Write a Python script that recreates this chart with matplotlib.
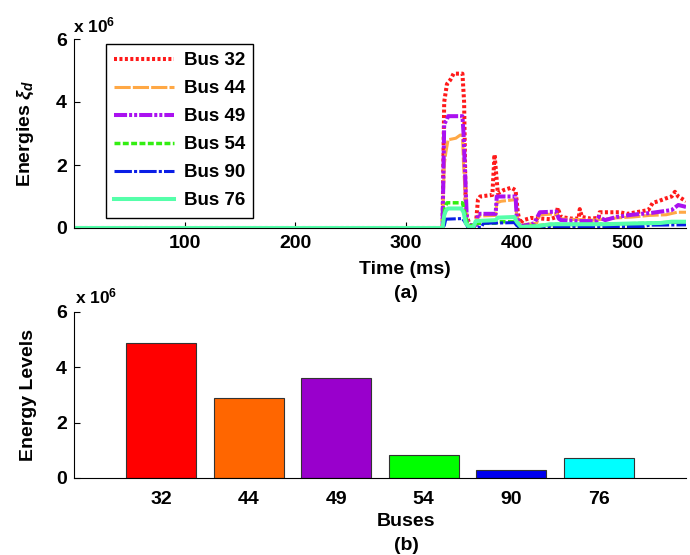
import matplotlib
matplotlib.use('Agg')
import matplotlib.pyplot as plt

plt.rcParams['font.family'] = ['Liberation Sans', 'DejaVu Sans']
plt.rcParams['font.weight'] = 'bold'
plt.rcParams['axes.labelweight'] = 'bold'
plt.rcParams['mathtext.fontset'] = 'custom'
plt.rcParams['mathtext.rm'] = 'Liberation Sans:bold'
plt.rcParams['mathtext.it'] = 'Liberation Sans:bold:italic'
plt.rcParams['mathtext.bf'] = 'Liberation Sans:bold'

## energies (x 10^6), time in ms ##
t32 = [0, 333, 334.5, 337, 340, 343, 351, 352.5, 354, 358, 363, 365, 367, 378, 380, 383, 388, 395, 399, 401, 403,
       406, 413, 422, 430, 436, 437, 440, 449, 456, 457, 459, 467, 474, 475, 493, 500, 519, 523, 528, 534, 540,
       543, 546, 553]
e32 = [0, 0, 4.0, 4.57, 4.7, 4.9, 4.9, 4.0, 0.5, 0.03, 0.05, 0.9, 1.0, 1.05, 2.33, 1.1, 1.2, 1.28, 1.2, 0.5, 0.15,
       0.25, 0.32, 0.3, 0.28, 0.35, 0.64, 0.35, 0.3, 0.3, 0.6, 0.35, 0.3, 0.32, 0.5, 0.5, 0.45, 0.57, 0.8, 0.85,
       0.93, 1.0, 1.15, 1.0, 0.85]

t44 = [0, 333, 334.5, 336, 338, 345, 349, 351, 352, 355, 362, 365, 381, 382, 386, 399, 400, 403, 410, 418, 421,
       436, 438, 445, 470, 490, 505, 520, 535, 545, 553]
e44 = [0, 0, 2.0, 2.4, 2.8, 2.85, 2.95, 2.95, 2.0, 0.1, 0.05, 0.38, 0.4, 0.8, 0.85, 0.9, 0.4, 0.1, 0.12, 0.15,
       0.42, 0.45, 0.3, 0.28, 0.25, 0.32, 0.35, 0.4, 0.42, 0.5, 0.5]

t49 = [0, 333, 334.5, 337, 338, 351, 352, 355, 358, 364, 365, 381, 382, 399, 400, 403, 410, 416, 418, 421, 436,
       438, 440, 455, 472, 474, 480, 490, 504, 522, 540, 546, 553]
e49 = [0, 0, 3.3, 3.45, 3.55, 3.55, 3.0, 0.25, 0.08, 0.1, 0.45, 0.45, 1.0, 1.0, 0.4, 0.05, 0.1, 0.15, 0.3, 0.5,
       0.52, 0.3, 0.25, 0.22, 0.22, 0.35, 0.25, 0.35, 0.42, 0.48, 0.57, 0.73, 0.67]

t54 = [0, 333, 335, 337, 351, 353, 356, 365, 381, 383, 399, 402, 420, 437, 440, 480, 520, 553]
e54 = [0, 0, 0.6, 0.8, 0.8, 0.5, 0.05, 0.15, 0.15, 0.2, 0.2, 0.03, 0.08, 0.12, 0.1, 0.12, 0.15, 0.2]

t90 = [0, 334, 336, 351, 353, 356, 368, 370, 398, 400, 403, 440, 480, 515, 520, 553]
e90 = [0, 0, 0.28, 0.3, 0.2, 0.02, 0.02, 0.15, 0.17, 0.08, 0.02, 0.02, 0.04, 0.05, 0.09, 0.1]

t76 = [0, 333, 334.5, 336, 338, 350, 352, 354, 357, 361, 363, 381, 383, 398, 400, 404, 420, 430, 480, 500, 530,
       540, 553]
e76 = [0, 0, 0.4, 0.55, 0.62, 0.62, 0.5, 0.15, 0.03, 0.03, 0.22, 0.25, 0.33, 0.35, 0.2, 0.03, 0.06, 0.12, 0.12,
       0.14, 0.16, 0.2, 0.2]

## peak energy per bus (x 10^6) ##
buses = ['32', '44', '49', '54', '90', '76']
levels = [4.89, 2.89, 3.6, 0.84, 0.29, 0.72]
bar_colors = ['#FF0000', '#FF6600', '#9900CC', '#00FF00', '#0000EE', '#00FFFF']

fs = 14

fig = plt.figure(figsize=(6.9, 5.55), dpi=100)

#Top plot - energies vs time
ax1 = fig.add_axes([74/690, 1-228/555, 612/690, 189/555])
ax1.plot(t32, e32, color='#FF1A1A', lw=2.9, linestyle=(0, (0.75, 0.6)), label='Bus 32')
ax1.plot(t44, e44, color='#FFA845', lw=2.2, linestyle=(0, (5.3, 0.7)), label='Bus 44')
ax1.plot(t49, e49, color='#AA11F0', lw=2.9, linestyle=(0, (3.25, 0.5, 0.75, 0.5, 0.75, 0.5)), label='Bus 49')
ax1.plot(t54, e54, color='#33EE11', lw=2.5, linestyle=(0, (1.7, 0.7)), label='Bus 54')
ax1.plot(t90, e90, color='#0A1EE6', lw=2.2, linestyle=(0, (5.7, 0.7, 1.0, 0.7)), label='Bus 90')
ax1.plot(t76, e76, color='#55FFAA', lw=2.9, linestyle='-', label='Bus 76')
ax1.set_xlim(0, 553)
ax1.set_ylim(0, 6)
ax1.set_xticks([100, 200, 300, 400, 500])
ax1.set_yticks([0, 2, 4, 6])
ax1.spines['top'].set_visible(False)
ax1.spines['right'].set_visible(False)
ax1.tick_params(direction='in', length=4, labelsize=fs, pad=5)
ax1.set_xlabel('Time (ms)', fontsize=fs)
ax1.xaxis.set_label_coords(0.541, -0.175)
ax1.set_ylabel(r'Energies $\xi_d$', fontsize=fs)
ax1.yaxis.set_label_coords(-0.062, 0.5)
leg = ax1.legend(loc='upper left', bbox_to_anchor=(0.052, 0.975), borderaxespad=0, fontsize=13.5,
                 handlelength=3.2, handletextpad=0.5, labelspacing=0.58, borderpad=0.45,
                 fancybox=False, framealpha=1, edgecolor='black')
leg.get_frame().set_linewidth(1.0)
fig.text(73/690, 1-32/555, r'x 10$^{6}$', fontsize=12.5, ha='left', va='baseline')
fig.text(406/690, 1-294/555, '(a)', fontsize=fs, ha='center', va='center')

#Bottom plot - bar chart of energy levels
ax2 = fig.add_axes([74/690, 1-478/555, 612/690, 166/555])
ax2.bar(range(1, 7), levels, width=0.8, color=bar_colors, edgecolor='#333333', linewidth=0.8)
ax2.set_xlim(0, 7)
ax2.set_ylim(0, 6)
ax2.set_xticks(range(1, 7))
ax2.set_xticklabels(buses)
ax2.set_yticks([0, 2, 4, 6])
ax2.spines['top'].set_visible(False)
ax2.spines['right'].set_visible(False)
ax2.tick_params(axis='y', direction='in', length=4, labelsize=fs, pad=5)
ax2.tick_params(axis='x', length=0, labelsize=fs, pad=9)
ax2.set_xlabel('Buses', fontsize=fs)
ax2.xaxis.set_label_coords(0.542, -0.21)
ax2.set_ylabel('Energy Levels', fontsize=fs)
ax2.yaxis.set_label_coords(-0.06, 0.5)
fig.text(75/690, 1-303/555, r'x 10$^{6}$', fontsize=12.5, ha='left', va='baseline')
fig.text(406/690, 1-545/555, '(b)', fontsize=fs, ha='center', va='center')

plt.savefig('out.png', dpi=100)
